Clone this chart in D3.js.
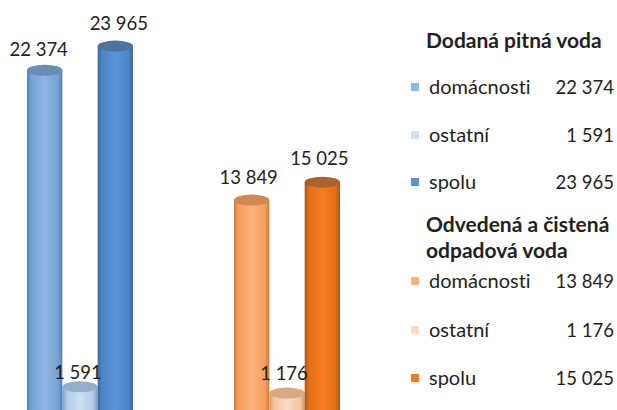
<!DOCTYPE html>
<html>
<head>
<meta charset="utf-8">
<script src="https://cdn.jsdelivr.net/npm/d3@7"></script>
<style>
  html, body { margin: 0; padding: 0; background: #fff; }
  text { font-family: Lato, sans-serif; fill: #231f20; font-variant-ligatures: none; }
</style>
</head>
<body>
<div id="chart"></div>
<script>
const groups = ['Dodaná pitná voda', 'Odvedená a čistená odpadová voda'];
const seriesNames = ['domácnosti', 'ostatní', 'spolu'];
const water = [22374, 1591, 23965];
const waste = [13849, 1176, 15025];
const blues = ['#8fb6e2', '#cfe0f3', '#5b94d4'];
const oranges = ['#fdb27a', '#fbdcc3', '#f57c1f'];

const width = 617;
const height = 410;

const svg = d3.select('#chart').append('svg')
  .attr('width', width)
  .attr('height', height)
  .style('display', 'block');

const xGroup = d3.scaleBand()
  .domain(groups)
  .range([27, 340])
  .paddingInner(0.488);

const xSeries = d3.scaleBand()
  .domain(seriesNames)
  .range([0, xGroup.bandwidth()]);

const yScale = d3.scaleLinear()
  .domain([0, 24000])
  .range([411, 45.5]);

const fmt = d3.formatLocale({ decimal: ',', thousands: ' ', grouping: [3], currency: ['', ''] }).format(',d');

const rows = groups.flatMap((g, i) => {
  const values = i === 0 ? water : waste;
  const colors = i === 0 ? blues : oranges;
  return seriesNames.map((name, j) => ({ group: g, name, value: values[j], color: colors[j], id: `cyl${i}${j}` }));
});

// darker and a bit greyer, the plain hsl darker() stays too vivid
const shade = (c, k, sat = 0.7) => {
  const h = d3.hsl(c).darker(k);
  h.s *= sat;
  return h.formatHex();
};

// horizontal shading, dark at the edges, that makes a bar look round
const defs = svg.append('defs');
const grads = defs.selectAll('linearGradient')
  .data(rows)
  .join('linearGradient')
  .attr('id', d => d.id);
grads.append('stop').attr('offset', '0%').attr('stop-color', d => shade(d.color, 1));
grads.append('stop').attr('offset', '12%').attr('stop-color', d => shade(d.color, 0.3, 0.9));
grads.append('stop').attr('offset', '50%').attr('stop-color', d => d.color);
grads.append('stop').attr('offset', '88%').attr('stop-color', d => shade(d.color, 0.3, 0.9));
grads.append('stop').attr('offset', '100%').attr('stop-color', d => shade(d.color, 1));

const capRy = 5.5;
const barLeft = d => xGroup(d.group) + xSeries(d.name);

const bars = svg.append('g')
  .selectAll('g')
  .data(rows)
  .join('g');

bars.append('rect')
  .attr('x', barLeft)
  .attr('y', d => yScale(d.value))
  .attr('width', xSeries.bandwidth())
  .attr('height', d => yScale(0) - yScale(d.value))
  .attr('fill', d => `url(#${d.id})`);

bars.append('ellipse')
  .attr('cx', d => barLeft(d) + xSeries.bandwidth() / 2)
  .attr('cy', d => yScale(d.value))
  .attr('rx', xSeries.bandwidth() / 2)
  .attr('ry', capRy)
  .attr('fill', d => shade(d.color, 0.7, 0.6));

// the labels sit by hand in the original, not at one fixed distance
const labelDx = [-6, -2, 3.5, -3, -3, -3];
const labelGap = [14, 8, 16, 16, 13, 17];

svg.append('g')
  .selectAll('text')
  .data(rows)
  .join('text')
  .attr('x', (d, i) => barLeft(d) + xSeries.bandwidth() / 2 + labelDx[i])
  .attr('y', (d, i) => yScale(d.value) - labelGap[i])
  .attr('text-anchor', 'middle')
  .attr('font-size', 18.5)
  .text(d => fmt(d.value));

// legend
const legendTitles = [
  { lines: ['Dodaná pitná voda'], y: 48 },
  { lines: ['Odvedená a čistená', 'odpadová voda'], y: 232 }
];
const legendY = [94, 142, 189, 288, 337, 385];

const titles = svg.append('g')
  .attr('font-size', 21)
  .attr('font-weight', 700);

legendTitles.forEach(t => {
  titles.selectAll(null)
    .data(t.lines)
    .join('text')
    .attr('x', 426)
    .attr('y', (d, i) => t.y + i * 26)
    .text(d => d);
});

const legend = svg.append('g')
  .selectAll('g')
  .data(rows)
  .join('g')
  .attr('transform', (d, i) => `translate(0,${legendY[i]})`);

legend.append('rect')
  .attr('x', 411)
  .attr('y', -11)
  .attr('width', 8)
  .attr('height', 8)
  .attr('fill', d => d.color);

legend.append('text')
  .attr('x', 429)
  .attr('font-size', 20)
  .text(d => d.name);

legend.append('text')
  .attr('x', 614)
  .attr('text-anchor', 'end')
  .attr('font-size', 18.5)
  .text(d => fmt(d.value));
</script>
</body>
</html>
